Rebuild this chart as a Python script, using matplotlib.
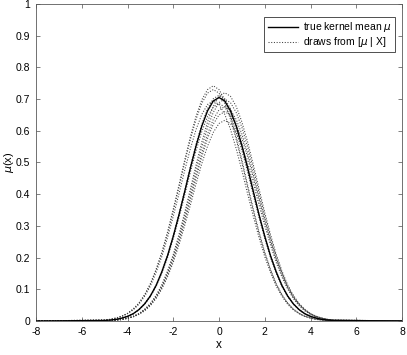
import numpy as np
import matplotlib
matplotlib.use('Agg')
import matplotlib.pyplot as plt

plt.rcParams['font.family'] = ['Liberation Sans', 'DejaVu Sans']
plt.rcParams['mathtext.fontset'] = 'dejavusans'

# x grid of the readings (-5..5, step 0.25), curves fall to 0 at the axis ends
x_grid = np.arange(-5, 5.001, 0.25)
x_ends = [-8, 8]

true_mean = [0.0016, 0.003, 0.005, 0.009, 0.0145, 0.023, 0.036, 0.054, 0.079, 0.112, 0.155,
             0.206, 0.267, 0.335, 0.408, 0.483, 0.553, 0.615, 0.663, 0.694, 0.705, 0.694,
             0.663, 0.615, 0.553, 0.483, 0.408, 0.335, 0.267, 0.206, 0.155, 0.112, 0.079,
             0.054, 0.036, 0.023, 0.0145, 0.009, 0.005, 0.003, 0.0016]

draws = [
    [0.0032, 0.0053, 0.0095, 0.0153, 0.024, 0.038, 0.057, 0.083, 0.118, 0.163, 0.217, 0.281,
     0.353, 0.429, 0.508, 0.582, 0.647, 0.698, 0.730, 0.742, 0.730, 0.698, 0.647, 0.582,
     0.508, 0.429, 0.353, 0.281, 0.217, 0.163, 0.118, 0.083, 0.057, 0.038, 0.024, 0.0153,
     0.0095, 0.0053, 0.0032, 0.0017, 0.0008],
    [0.0031, 0.0052, 0.0093, 0.015, 0.024, 0.037, 0.056, 0.082, 0.116, 0.161, 0.213, 0.276,
     0.347, 0.422, 0.500, 0.573, 0.637, 0.687, 0.719, 0.730, 0.719, 0.687, 0.637, 0.573,
     0.500, 0.422, 0.347, 0.276, 0.213, 0.161, 0.116, 0.082, 0.056, 0.037, 0.024, 0.015,
     0.0093, 0.0052, 0.0031, 0.0017, 0.0008],
    [0.0008, 0.0016, 0.0031, 0.0051, 0.0092, 0.0148, 0.023, 0.037, 0.055, 0.081, 0.114,
     0.158, 0.210, 0.273, 0.342, 0.417, 0.493, 0.565, 0.628, 0.677, 0.709, 0.720, 0.709,
     0.677, 0.628, 0.565, 0.493, 0.417, 0.342, 0.273, 0.210, 0.158, 0.114, 0.081, 0.055,
     0.037, 0.023, 0.0148, 0.0092, 0.0051, 0.0031],
    [0.0016, 0.003, 0.0051, 0.0091, 0.0146, 0.023, 0.036, 0.055, 0.080, 0.113, 0.157, 0.208,
     0.270, 0.338, 0.412, 0.488, 0.559, 0.621, 0.670, 0.701, 0.712, 0.701, 0.670, 0.621,
     0.559, 0.488, 0.412, 0.338, 0.270, 0.208, 0.157, 0.113, 0.080, 0.055, 0.036, 0.023,
     0.0146, 0.0091, 0.0051, 0.003, 0.0016],
    [0.0008, 0.0016, 0.003, 0.005, 0.0089, 0.0144, 0.023, 0.036, 0.054, 0.078, 0.111,
     0.154, 0.205, 0.265, 0.333, 0.405, 0.480, 0.549, 0.611, 0.658, 0.689, 0.700, 0.689,
     0.658, 0.611, 0.549, 0.480, 0.405, 0.333, 0.265, 0.205, 0.154, 0.111, 0.078, 0.054,
     0.036, 0.023, 0.0144, 0.0089, 0.005, 0.003],
    [0.003, 0.0049, 0.0089, 0.0143, 0.023, 0.035, 0.053, 0.078, 0.110, 0.153, 0.203, 0.263,
     0.330, 0.401, 0.475, 0.544, 0.605, 0.652, 0.683, 0.694, 0.683, 0.652, 0.605, 0.544,
     0.475, 0.401, 0.330, 0.263, 0.203, 0.153, 0.110, 0.078, 0.053, 0.035, 0.023, 0.0143,
     0.0089, 0.0049, 0.003, 0.0016, 0.0008],
    [0.0016, 0.003, 0.0049, 0.0088, 0.0141, 0.022, 0.035, 0.053, 0.077, 0.109, 0.151, 0.200,
     0.260, 0.326, 0.397, 0.470, 0.538, 0.598, 0.645, 0.675, 0.686, 0.675, 0.645, 0.598,
     0.538, 0.470, 0.397, 0.326, 0.260, 0.200, 0.151, 0.109, 0.077, 0.053, 0.035, 0.022,
     0.0141, 0.0088, 0.0049, 0.0029, 0.0016],
    [0.0008, 0.0015, 0.0029, 0.0048, 0.0086, 0.0139, 0.022, 0.035, 0.052, 0.076, 0.107,
     0.149, 0.198, 0.256, 0.321, 0.391, 0.463, 0.530, 0.590, 0.636, 0.666, 0.676, 0.666,
     0.636, 0.590, 0.530, 0.463, 0.391, 0.321, 0.256, 0.198, 0.149, 0.107, 0.076, 0.052,
     0.035, 0.022, 0.0139, 0.0086, 0.0048, 0.0029],
    [0.0007, 0.0015, 0.0028, 0.0047, 0.0084, 0.0136, 0.022, 0.034, 0.051, 0.074, 0.105,
     0.145, 0.193, 0.250, 0.314, 0.382, 0.452, 0.518, 0.576, 0.621, 0.650, 0.660, 0.650,
     0.621, 0.576, 0.518, 0.452, 0.382, 0.314, 0.250, 0.193, 0.145, 0.105, 0.074, 0.051,
     0.034, 0.022, 0.0136, 0.0084, 0.0047, 0.0028],
    [0.0007, 0.0014, 0.0027, 0.0045, 0.0081, 0.013, 0.021, 0.032, 0.048, 0.071, 0.101, 0.139,
     0.185, 0.240, 0.301, 0.366, 0.434, 0.497, 0.552, 0.595, 0.623, 0.633, 0.623, 0.595,
     0.552, 0.497, 0.434, 0.366, 0.301, 0.240, 0.185, 0.139, 0.101, 0.071, 0.048, 0.032,
     0.021, 0.013, 0.0081, 0.0045, 0.0027],
]

x_ticks = [-8, -6, -4, -2, 0, 2, 4, 6, 8]
y_ticks = [0, 0.1, 0.2, 0.3, 0.4, 0.5, 0.6, 0.7, 0.8, 0.9, 1]


def full(vals):
    xs = np.concatenate(([x_ends[0]], x_grid, [x_ends[1]]))
    ys = np.concatenate(([0], vals, [0]))
    return xs, ys


fig = plt.figure(figsize=(4.07, 3.55), dpi=100)
ax = fig.add_axes([0.0885, 0.0958, 0.8992, 0.893])

for i, d in enumerate(draws):
    xs, ys = full(d)
    ax.plot(xs, ys, color='0.25', linestyle=(0, (1, 1.6)), linewidth=0.75,
            label=r'draws from [$\mu$ | X]' if i == 0 else None, zorder=2)

xs, ys = full(true_mean)
ax.plot(xs, ys, color='black', linewidth=1.0, label=r'true kernel mean $\mu$', zorder=3)

ax.set_xlim(-8, 8)
ax.set_ylim(0, 1)
ax.set_xticks(x_ticks)
ax.set_xticklabels([str(t) for t in x_ticks])
ax.set_yticks(y_ticks)
ax.set_yticklabels([('%g' % t) for t in y_ticks])
ax.tick_params(direction='in', length=3, width=0.5, top=True, right=True,
               labelsize=7.5, color='0.3', pad=4)
for s in ax.spines.values():
    s.set_linewidth(0.6)
    s.set_color('0.35')

ax.set_xlabel('x', fontsize=8.5, labelpad=2)
ax.set_ylabel(r'$\mu$(x)', fontsize=8)
ax.yaxis.set_label_coords(-0.055, 0.5)

h, l = ax.get_legend_handles_labels()
leg = ax.legend(h[::-1], l[::-1], loc='upper right', fontsize=7.5, fancybox=False,
                framealpha=1, edgecolor='0.2', handlelength=2.9, borderpad=0.3,
                labelspacing=0.1, handletextpad=0.5, bbox_to_anchor=(0.995, 0.975))
leg.get_frame().set_linewidth(0.6)

fig.savefig('out.png', dpi=100)
